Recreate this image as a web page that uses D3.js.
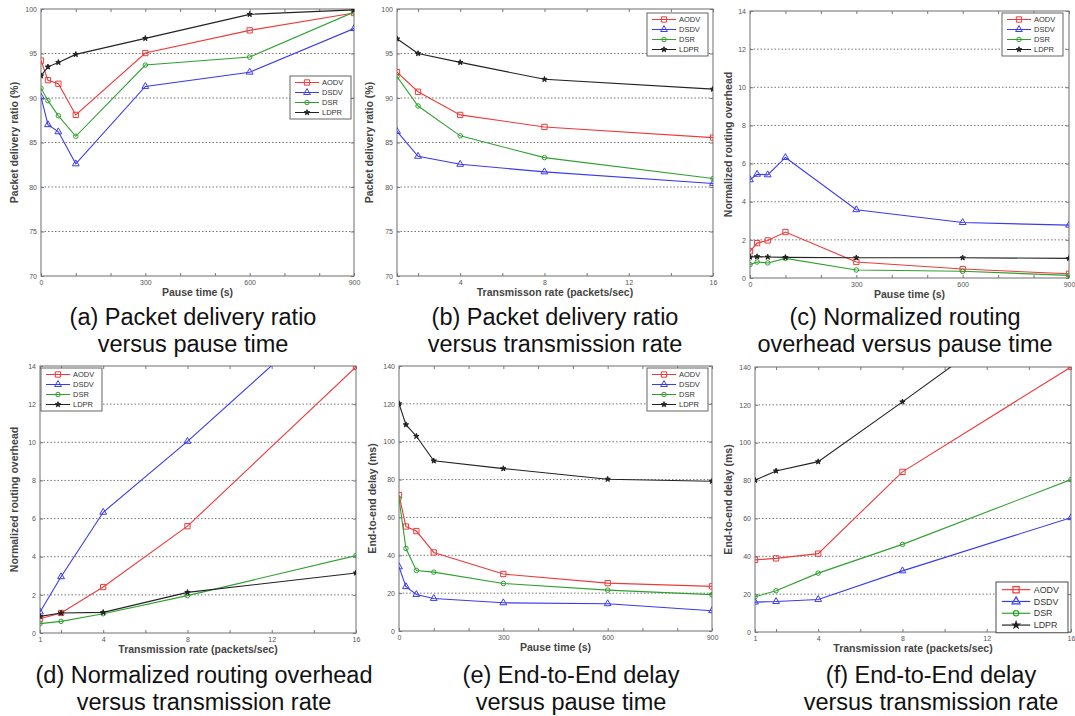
<!DOCTYPE html>
<html>
<head>
<meta charset="utf-8">
<script src="https://cdn.jsdelivr.net/npm/d3@7"></script>
<style>
    body { margin: 0; background: #fff; }
    svg { display: block; font-family: Arial, "Liberation Sans", sans-serif; }
</style>
</head>
<body>
<div id="chart"></div>
<script>
'use strict';

// series and x values
const seriesNames = ['AODV', 'DSDV', 'DSR', 'LDPR'];
const pauseTimes = [0, 20, 50, 100, 300, 600, 900];
const rates = [1, 2, 4, 8, 16];

// ticks
const pauseTickMarks = [0, 100, 200, 300, 400, 500, 600, 700, 800, 900];
const pauseTickLabels = [0, 300, 600, 900];
const rateTickMarks = [1, 2, 4, 6, 8, 10, 12, 14, 16];
const rateTickLabels = [1, 4, 8, 12, 16];
const pdrTicks = [70, 75, 80, 85, 90, 95, 100];
const overheadTicks = [0, 2, 4, 6, 8, 10, 12, 14];
const delayTicks = [0, 20, 40, 60, 80, 100, 120, 140];

// values, one row per series (AODV, DSDV, DSR, LDPR)
const pdrPause = [
    [94.2, 92.0, 91.6, 88.1, 95.05, 97.6, 99.55],
    [90.1, 87.0, 86.2, 82.6, 91.3, 92.9, 97.8],
    [91.1, 89.7, 88.0, 85.7, 93.7, 94.6, 99.65],
    [92.5, 93.5, 94.0, 94.9, 96.7, 99.4, 99.9]
];
const pdrRate = [
    [92.9, 90.7, 88.1, 86.75, 85.55],
    [86.25, 83.45, 82.55, 81.7, 80.4],
    [92.4, 89.1, 85.75, 83.3, 80.95],
    [96.65, 95.0, 94.0, 92.1, 91.0]
];
const overheadPause = [
    [1.4, 1.83, 1.97, 2.41, 0.84, 0.47, 0.22],
    [5.15, 5.44, 5.41, 6.32, 3.58, 2.91, 2.77],
    [0.7, 0.84, 0.79, 1.03, 0.42, 0.35, 0.14],
    [1.1, 1.12, 1.1, 1.08, 1.06, 1.06, 1.03]
];
const overheadRate = [
    [0.75, 1.05, 2.41, 5.6, 13.95],
    [1.1, 2.95, 6.33, 10.05, 18.0],
    [0.49, 0.61, 1.01, 1.96, 4.06],
    [0.87, 1.05, 1.08, 2.13, 3.15]
];
const delayPause = [
    [71.8, 55.2, 52.8, 41.5, 30.1, 25.3, 23.6],
    [33.9, 23.4, 19.3, 17.2, 14.9, 14.4, 10.7],
    [70.0, 43.6, 32.0, 31.1, 25.1, 21.6, 19.2],
    [120.1, 109.0, 102.9, 89.9, 85.8, 80.2, 79.1]
];
const delayRate = [
    [38.1, 38.9, 41.4, 84.6, 140.0],
    [15.8, 16.1, 17.2, 32.3, 60.4],
    [18.6, 21.8, 31.1, 46.3, 80.5],
    [80.2, 85.1, 90.0, 121.6, 186.0]
];

const colors = ['#ee3a3a', '#3a3aee', '#2fa02f', '#222222'];
const symbols = [d3.symbolSquare, d3.symbolTriangle, d3.symbolCircle, d3.symbolStar];
const symbolSizes = [28, 20, 16, 9];

const panels = [
    { key: 'a', values: pdrPause, xs: pauseTimes, xDomain: [0, 900], xMarks: pauseTickMarks, xLabels: pauseTickLabels,
      yDomain: [70, 100], yTicks: pdrTicks, xTitle: 'Pause time (s)', yTitle: 'Packet delivery ratio (%)',
      caption: ['(a) Packet delivery ratio', 'versus pause time'],
      box: [41, 9, 354, 276], yTitleX: 14, legend: [290, 76, 1], capX: 193, capY: 325 },
    { key: 'b', values: pdrRate, xs: rates, xDomain: [1, 16], xMarks: rateTickMarks, xLabels: rateTickLabels,
      yDomain: [70, 100], yTicks: pdrTicks, xTitle: 'Transmisson rate (packets/sec)', yTitle: 'Packet delivery ratio (%)',
      caption: ['(b) Packet delivery ratio', 'versus transmission rate'],
      box: [397, 9, 713, 276], yTitleX: 369, legend: [647, 13, 1], capX: 555, capY: 325 },
    { key: 'c', values: overheadPause, xs: pauseTimes, xDomain: [0, 900], xMarks: pauseTickMarks, xLabels: pauseTickLabels,
      yDomain: [0, 14], yTicks: overheadTicks, xTitle: 'Pause time (s)', yTitle: 'Normalized routing overhead',
      caption: ['(c) Normalized routing', 'overhead versus pause time'],
      box: [750, 11, 1069, 278], yTitleX: 728, legend: [1002, 13, 1], capX: 905, capY: 325 },
    { key: 'd', values: overheadRate, xs: rates, xDomain: [1, 16], xMarks: rateTickMarks, xLabels: rateTickLabels,
      yDomain: [0, 14], yTicks: overheadTicks, xTitle: 'Transmission rate (packets/sec)', yTitle: 'Normalized routing overhead',
      caption: ['(d) Normalized routing overhead', 'versus transmission rate'],
      box: [40, 366, 356, 633], yTitleX: 14, legend: [41, 368, 1], capX: 204, capY: 683 },
    { key: 'e', values: delayPause, xs: pauseTimes, xDomain: [0, 900], xMarks: pauseTickMarks, xLabels: pauseTickLabels,
      yDomain: [0, 140], yTicks: delayTicks, xTitle: 'Pause time (s)', yTitle: 'End-to-end delay (ms)',
      caption: ['(e) End-to-End delay', 'versus pause time'],
      box: [399, 366, 712, 631], yTitleX: 372, legend: [647, 368, 1], capX: 571, capY: 683 },
    { key: 'f', values: delayRate, xs: rates, xDomain: [1, 16], xMarks: rateTickMarks, xLabels: rateTickLabels,
      yDomain: [0, 140], yTicks: delayTicks, xTitle: 'Transmission rate (packets/sec)', yTitle: 'End-to-end delay (ms)',
      caption: ['(f) End-to-End delay', 'versus transmission rate'],
      box: [755, 367, 1071, 632], yTitleX: 728, legend: [996, 582, 1.18], capX: 931, capY: 683 }
];

const svg = d3.select('#chart').append('svg')
    .attr('width', 1075)
    .attr('height', 716);

panels.forEach(drawPanel);

function drawPanel(p) {
    const [x0, y0, x1, y1] = p.box;
    const x = d3.scaleLinear().domain(p.xDomain).range([x0, x1]);
    const y = d3.scaleLinear().domain(p.yDomain).range([y1, y0]);
    const g = svg.append('g').attr('class', 'panel-' + p.key);

    //clip so lines running off the top stay inside
    g.append('clipPath').attr('id', 'clip-' + p.key)
        .append('rect')
        .attr('x', x0).attr('y', y0)
        .attr('width', x1 - x0).attr('height', y1 - y0);

    //dotted horizontal grid
    g.append('g')
        .selectAll('line')
        .data(p.yTicks.slice(1, -1))
        .enter().append('line')
        .attr('x1', x0).attr('x2', x1)
        .attr('y1', d => y(d)).attr('y2', d => y(d))
        .attr('stroke', '#666')
        .attr('stroke-width', 0.9)
        .attr('stroke-dasharray', '1.5,2');

    //axes, ticks pointing inwards
    const fmtX = d => p.xLabels.includes(d) ? d : '';
    const bottom = g.append('g').attr('transform', 'translate(0,' + y1 + ')')
        .call(d3.axisBottom(x).tickValues(p.xMarks).tickFormat(fmtX).tickSizeInner(-3).tickSizeOuter(0).tickPadding(4));
    const top = g.append('g').attr('transform', 'translate(0,' + y0 + ')')
        .call(d3.axisTop(x).tickValues(p.xMarks).tickFormat('').tickSizeInner(-3).tickSizeOuter(0));
    const left = g.append('g').attr('transform', 'translate(' + x0 + ',0)')
        .call(d3.axisLeft(y).tickValues(p.yTicks).tickSizeInner(-3).tickSizeOuter(0).tickPadding(4));
    const right = g.append('g').attr('transform', 'translate(' + x1 + ',0)')
        .call(d3.axisRight(y).tickValues(p.yTicks).tickFormat('').tickSizeInner(-3).tickSizeOuter(0));

    [bottom, top, left, right].forEach(a => {
        a.select('.domain').remove();
        a.selectAll('.tick line').attr('stroke', '#777');
        a.selectAll('.tick text')
            .attr('fill', '#555')
            .attr('font-size', 7)
            .attr('font-family', 'Arial, "Liberation Sans", sans-serif');
    });

    //frame
    g.append('rect')
        .attr('x', x0).attr('y', y0)
        .attr('width', x1 - x0).attr('height', y1 - y0)
        .attr('fill', 'none')
        .attr('stroke', '#7a7a7a')
        .attr('stroke-width', 1.1);

    //series lines and markers
    const line = d3.line()
        .x((d, i) => x(p.xs[i]))
        .y(d => y(d));

    const plot = g.append('g').attr('clip-path', 'url(#clip-' + p.key + ')');

    p.values.forEach((vals, s) => {
        plot.append('path')
            .attr('d', line(vals))
            .attr('fill', 'none')
            .attr('stroke', colors[s])
            .attr('stroke-width', 1.1);

        plot.selectAll('.m' + s)
            .data(vals)
            .enter().append('path')
            .attr('class', 'm' + s)
            .attr('transform', (d, i) => 'translate(' + x(p.xs[i]) + ',' + y(d) + ')')
            .attr('d', d3.symbol().type(symbols[s]).size(symbolSizes[s]))
            .attr('fill', s === 3 ? colors[s] : 'none')
            .attr('stroke', colors[s])
            .attr('stroke-width', 1);
    });

    //axis titles
    g.append('text')
        .attr('x', (x0 + x1) / 2)
        .attr('y', y1 + 20)
        .attr('text-anchor', 'middle')
        .attr('font-size', 10.5)
        .attr('font-weight', 'bold')
        .attr('fill', '#444')
        .text(p.xTitle);

    g.append('text')
        .attr('transform', 'translate(' + p.yTitleX + ',' + ((y0 + y1) / 2) + ') rotate(-90)')
        .attr('text-anchor', 'middle')
        .attr('dy', '0.35em')
        .attr('font-size', 10.5)
        .attr('font-weight', 'bold')
        .attr('fill', '#444')
        .text(p.yTitle);

    drawLegend(g, p.legend);

    //caption below the plot
    p.caption.forEach((c, i) => {
        g.append('text')
            .attr('x', p.capX)
            .attr('y', p.capY + i * 27)
            .attr('text-anchor', 'middle')
            .attr('font-size', 23.5)
            .attr('fill', '#111')
            .text(c);
    });
}

function drawLegend(g, pos) {
    const [lx, ly, k] = pos;
    const lg = g.append('g').attr('transform', 'translate(' + lx + ',' + ly + ') scale(' + k + ')');

    lg.append('rect')
        .attr('width', 61).attr('height', 43)
        .attr('fill', '#fff')
        .attr('stroke', '#555')
        .attr('stroke-width', 0.9);

    seriesNames.forEach((name, s) => {
        const ry = 6.5 + s * 10;
        lg.append('line')
            .attr('x1', 5).attr('x2', 29)
            .attr('y1', ry).attr('y2', ry)
            .attr('stroke', colors[s])
            .attr('stroke-width', 1);
        lg.append('path')
            .attr('transform', 'translate(17,' + ry + ')')
            .attr('d', d3.symbol().type(symbols[s]).size(symbolSizes[s]))
            .attr('fill', s === 3 ? colors[s] : 'none')
            .attr('stroke', colors[s]);
        lg.append('text')
            .attr('x', 32).attr('y', ry)
            .attr('dy', '0.35em')
            .attr('font-size', 7.5)
            .attr('fill', '#333')
            .text(name);
    });
}
</script>
</body>
</html>
